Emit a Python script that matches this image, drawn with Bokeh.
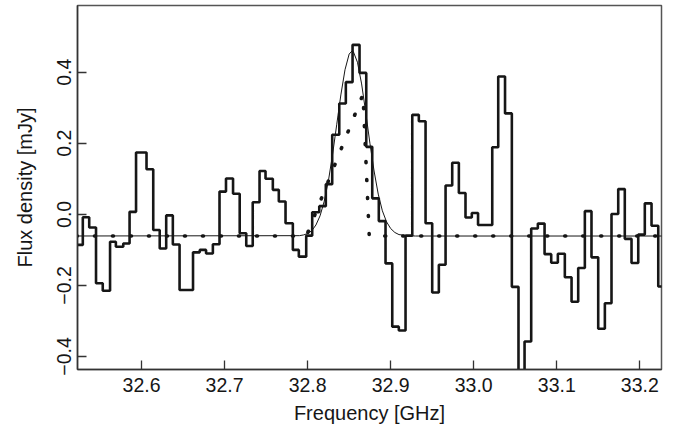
from bokeh.plotting import figure
from bokeh.models import Range1d, FixedTicker, CustomJSTickFormatter
from bokeh.embed import file_html
from bokeh.resources import INLINE

# ---- data ----
# channel edges of the observed spectrum (GHz) and flux per channel (mJy)
edges_ghz = [32.5214, 32.5293, 32.5370, 32.5452, 32.5533, 32.5621, 32.5691, 32.5780,
             32.5856, 32.5934, 32.6060, 32.6141, 32.6219, 32.6297, 32.6377, 32.6458,
             32.6620, 32.6701, 32.6777, 32.6859, 32.6939, 32.7017, 32.7102, 32.7182,
             32.7261, 32.7339, 32.7421, 32.7493, 32.7581, 32.7653, 32.7734, 32.7822,
             32.7894, 32.7983, 32.8055, 32.8140, 32.8219, 32.8296, 32.8381, 32.8460,
             32.8541, 32.8625, 32.8706, 32.8778, 32.8857, 32.8938, 32.9019, 32.9098,
             32.9179, 32.9260, 32.9339, 32.9420, 32.9500, 32.9580, 32.9661, 32.9741,
             32.9821, 32.9901, 32.9977, 33.0052, 33.0223, 33.0295, 33.0377, 33.0459,
             33.0539, 33.0612, 33.0692, 33.0772, 33.0853, 33.0933, 33.1013, 33.1097,
             33.1178, 33.1258, 33.1338, 33.1418, 33.1499, 33.1579, 33.1659, 33.1740,
             33.1819, 33.1900, 33.1981, 33.2060, 33.2141, 33.2222, 33.2301]
flux_mjy = [-0.086, -0.008, -0.037, -0.194, -0.215, -0.077, -0.091, -0.082, 0.007, 0.174,
            0.127, -0.044, -0.096, -0.003, -0.085, -0.213, -0.107, -0.100, -0.110, -0.084,
            0.064, 0.101, 0.058, -0.053, -0.089, 0.034, 0.122, 0.100, 0.069, 0.036,
            -0.025, -0.100, -0.119, -0.060, 0.006, 0.023, 0.085, 0.224, 0.312, 0.372,
            0.477, 0.398, 0.190, 0.045, -0.019, -0.138, -0.316, -0.327, -0.060, 0.280,
            0.262, -0.025, -0.220, -0.142, 0.081, 0.145, 0.060, -0.009, 0.004, -0.030,
            0.189, 0.388, 0.284, -0.204, -0.550, -0.358, -0.040, -0.026, -0.112, -0.136,
            -0.111, -0.177, -0.246, -0.151, 0.009, -0.121, -0.322, -0.250, 0.001, 0.071,
            -0.069, -0.137, -0.057, 0.031, -0.032, -0.203]

# thin line: Gaussian fit
gauss_freq = [32.50, 32.79, 32.795, 32.80, 32.805, 32.81, 32.815, 32.82, 32.825, 32.83,
              32.835, 32.84, 32.845, 32.85, 32.8535, 32.855, 32.86, 32.865, 32.87, 32.875,
              32.88, 32.885, 32.89, 32.895, 32.90, 32.905, 32.91, 32.92, 32.93, 33.25]
gauss_flux = [-0.061, -0.060, -0.058, -0.054, -0.046, -0.030, -0.004, 0.037, 0.094, 0.168,
              0.252, 0.336, 0.407, 0.451, 0.460, 0.458, 0.428, 0.367, 0.286, 0.200,
              0.122, 0.057, 0.010, -0.021, -0.040, -0.051, -0.057, -0.060, -0.061, -0.061]

# dotted line: model profile
model_freq = [32.50, 32.7985, 32.8667, 32.8742, 33.25]
model_flux = [-0.061, -0.061, 0.338, -0.061, -0.061]

x_ticks = [32.6, 32.7, 32.8, 32.9, 33.0, 33.1, 33.2]
x_tick_labels = ["32.6", "32.7", "32.8", "32.9", "33.0", "33.1", "33.2"]
y_ticks = [-0.4, -0.2, 0.0, 0.2, 0.4]
y_tick_labels = ["\u22120.4", "\u22120.2", "0.0", "0.2", "0.4"]
x_label = "Frequency [GHz]"
y_label = "Flux density [mJy]"

FONT = "Liberation Sans"
INK = "#161616"

p = figure(frame_width=584, frame_height=364, output_backend="svg", toolbar_location=None,
           x_range=Range1d(32.5229, 33.2261), y_range=Range1d(-0.4366, 0.5877),
           min_border_left=77, min_border_right=8, min_border_top=5, min_border_bottom=0)
p.grid.visible = False
p.background_fill_color = "white"
p.border_fill_color = "white"
p.outline_line_color = "#555555"
p.outline_line_width = 1.5
p.outline_line_alpha = 1.0

p.line(model_freq, model_flux, line_width=3.6, line_dash="1 17", line_cap="round", color=INK)
p.line(gauss_freq, gauss_flux, line_width=1.0, color=INK)
p.step(edges_ghz, flux_mjy + [flux_mjy[-1]], mode="after", line_width=2.6, color=INK)

fmt_code = """
let best = -1, bd = 1e9;
for (let i = 0; i < tvals.length; i++) {
  const d = Math.abs(tvals[i] - tick);
  if (d < bd) { bd = d; best = i; }
}
return (best >= 0 && bd < 1e-6) ? tlabels[best] : "";
"""

p.xaxis.ticker = FixedTicker(ticks=x_ticks)
p.xaxis.formatter = CustomJSTickFormatter(args=dict(tvals=x_ticks, tlabels=x_tick_labels), code=fmt_code)
p.yaxis.ticker = FixedTicker(ticks=y_ticks)
p.yaxis.formatter = CustomJSTickFormatter(args=dict(tvals=y_ticks, tlabels=y_tick_labels), code=fmt_code)

for ax in (p.xaxis[0], p.yaxis[0]):
    ax.major_tick_in = 9
    ax.major_tick_out = 0
    ax.minor_tick_line_color = None
    ax.axis_line_color = "#333333"
    ax.axis_line_width = 1.5
    ax.major_tick_line_color = "#333333"
    ax.major_tick_line_width = 1.3
    ax.major_label_text_font = FONT
    ax.major_label_text_font_size = "19.5px"
    ax.major_label_text_color = INK
    ax.axis_label_text_font = FONT
    ax.axis_label_text_font_size = "20px"
    ax.axis_label_text_font_style = "normal"
    ax.axis_label_text_color = INK

p.xaxis.axis_label = x_label
p.yaxis.axis_label = y_label
p.xaxis.major_label_standoff = 8
p.xaxis.axis_label_standoff = 7
p.yaxis.major_label_orientation = "vertical"
p.yaxis.major_label_standoff = 6
p.yaxis.axis_label_standoff = 19

open("out.html", "w").write(file_html(p, INLINE))
